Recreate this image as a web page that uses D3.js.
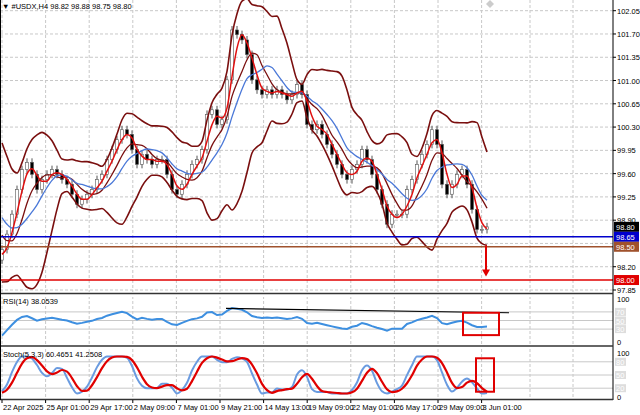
<!DOCTYPE html>
<html><head><meta charset="utf-8">
<script src="https://cdn.jsdelivr.net/npm/d3@7"></script>
<style>body{margin:0;background:#fff}text{font-family:"Liberation Sans",Arial,sans-serif}</style>
</head><body>
<script>
// closes, ~one point per 5px (warmup values sit before the left edge)
var warmup = [99.9, 99.8, 99.9, 99.7, 99.6, 99.5, 99.3, 99.2, 99.0, 98.7, 98.4, 98.3]
var closes = [98.46, 98.69, 98.99, 99.36, 99.66, 99.77, 99.59, 99.36, 99.51, 99.59, 99.66, 99.59, 99.51, 99.44, 99.29, 99.14, 99.21, 99.29, 99.36, 99.51,
  99.59, 99.81, 99.96, 100.11, 100.26, 100.19, 99.96, 99.74, 99.89, 99.81, 99.74, 99.81, 99.81, 99.59, 99.36, 99.29, 99.44, 99.59, 99.74, 99.81,
  99.96, 100.49, 100.56, 100.34, 100.41, 101.01, 101.76, 101.69, 101.61, 101.39, 101.01, 100.86, 100.79, 100.86, 100.79, 100.86, 100.79, 100.71, 100.79, 100.94,
  100.79, 100.34, 100.26, 100.34, 100.19, 100.04, 99.89, 99.74, 99.59, 99.51, 99.66, 99.74, 99.96, 99.81, 99.59, 99.36, 99.14, 98.84, 98.99, 98.99,
  98.99, 99.36, 99.51, 99.74, 99.89, 100.04, 100.26, 100.04, 99.44, 99.29, 99.44, 99.59, 99.66, 99.44, 99.06, 98.76, 98.76, 98.80]
var priceTicks = [102.05, 101.70, 101.35, 101.00, 100.65, 100.30, 99.95, 99.60, 99.25, 98.90, 98.20, 97.85]
var timeLabels = ['22 Apr 2025', '25 Apr 01:00', '29 Apr 17:00', '2 May 09:00', '7 May 01:00', '9 May 21:00', '14 May 13:00', '19 May 09:00', '22 May 01:00', '26 May 17:00', '29 May 09:00', '3 Jun 01:00']
var levels = [{ v: 98.80, c: '#000' }, { v: 98.65, c: '#0000cc' }, { v: 98.50, c: '#a0522d' }, { v: 98.00, c: '#e00000' }]

var W = 640, H = 415, axisX = 613
var svg = d3.select('body').append('svg').attr('width', W).attr('height', H)

var all = warmup.concat(closes)
var off = warmup.length
var x = d3.scaleLinear().domain([0, closes.length - 1]).range([2, 487])
var y = d3.scaleLinear().domain([97.85, 102.05]).range([290, 10.7])
var yR = d3.scaleLinear().domain([0, 100]).range([342, 299])
var yS = d3.scaleLinear().domain([0, 100]).range([397, 353])

function sma (n) { return all.map(function (d, i) { return i < n - 1 ? null : d3.mean(all.slice(i - n + 1, i + 1)) }) }
function sd (n) { return all.map(function (d, i) { return i < n - 1 ? null : d3.deviation(all.slice(i - n + 1, i + 1)) }) }
var mid = sma(10), dev = sd(10), fast = sma(3), blue = sma(9), mid2 = sma(6)
var upper = mid.map(function (m, i) { return m == null ? null : m + 2 * dev[i] })
var lower = mid.map(function (m, i) { return m == null ? null : m - 2 * dev[i] })

// RSI 14
var rsi = []
var ag = 0, al = 0
for (var i = 1; i < all.length; i++) {
  var ch = all[i] - all[i - 1]
  ag = (ag * 13 + Math.max(ch, 0)) / 14
  al = (al * 13 + Math.max(-ch, 0)) / 14
  rsi[i] = 100 - 100 / (1 + ag / (al || 1e-6))
}
// Stochastic on closes
var kRaw = all.map(function (d, i) {
  if (i < 5) return 50
  var s = all.slice(i - 5, i + 1), lo = d3.min(s), hi = d3.max(s)
  return hi === lo ? 50 : (d - lo) / (hi - lo) * 100
})
var kLine = kRaw.map(function (d, i) { return i < 2 ? d : (d + kRaw[i - 1] + kRaw[i - 2]) / 3 })
var dLine = kLine.map(function (d, i) { return i < 2 ? d : (d + kLine[i - 1] + kLine[i - 2]) / 3 })
kLine = kLine.map(function (d) { return 8 + d * 0.84 })
dLine = dLine.map(function (d) { return 8 + d * 0.84 })

function lineOf (arr, ys, curve) {
  return d3.line().defined(function (d, i) { return arr[i + off] != null }).curve(curve || d3.curveLinear)
    .x(function (d, i) { return x(i) }).y(function (d, i) { return ys(arr[i + off]) })(closes)
}

// grid
var grid = svg.append('g').attr('stroke', '#c8c8c8').attr('stroke-dasharray', '3,2')
var gx = d3.range(timeLabels.length).map(function (i) { return 2 + i * 43.6 }).concat([530, 573])
gx.forEach(function (gxv) {
  [[0, 292], [296, 345], [349, 399]].forEach(function (r) {
    grid.append('line').attr('x1', gxv).attr('x2', gxv).attr('y1', r[0]).attr('y2', r[1])
  })
})
priceTicks.concat([98.55]).forEach(function (t) { grid.append('line').attr('x1', 0).attr('x2', axisX).attr('y1', y(t)).attr('y2', y(t)) })
;[70, 50, 30].forEach(function (t) { svg.append('line').attr('x1', 0).attr('x2', axisX).attr('y1', yR(t)).attr('y2', yR(t)).attr('stroke', '#c8c8c8') })
;[80, 50, 20].forEach(function (t) { svg.append('line').attr('x1', 0).attr('x2', axisX).attr('y1', yS(t)).attr('y2', yS(t)).attr('stroke', '#c8c8c8') })

// candles (open = previous close)
var cg = svg.append('g')
closes.forEach(function (c, i) {
  var o = all[i + off - 1]
  var up = c >= o
  var hi = Math.max(o, c), lo = Math.min(o, c)
  cg.append('line').attr('x1', x(i)).attr('x2', x(i)).attr('y1', y(hi) - 4).attr('y2', y(lo) + 4).attr('stroke', '#555')
  cg.append('rect').attr('x', x(i) - 1.5).attr('width', 3).attr('y', y(hi)).attr('height', Math.max(1, y(lo) - y(hi)))
    .attr('fill', up ? '#fff' : '#000').attr('stroke', '#555').attr('stroke-width', 0.6)
})

// indicator lines
;[[upper, '#7a0f0f', 1.6], [lower, '#7a0f0f', 1.6], [mid2, '#7a0f0f', 1.3], [blue, '#4a78d8', 1.3], [fast, '#e01010', 1.5]].forEach(function (l) {
  svg.append('path').attr('d', lineOf(l[0], y, d3.curveMonotoneX)).attr('fill', 'none').attr('stroke', l[1]).attr('stroke-width', l[2])
})
svg.append('path').attr('d', lineOf(rsi, yR)).attr('fill', 'none').attr('stroke', '#3d8fe0').attr('stroke-width', 2)
svg.append('path').attr('d', lineOf(kLine, yS, d3.curveMonotoneX)).attr('fill', 'none').attr('stroke', '#6a9be0').attr('stroke-width', 2)
svg.append('path').attr('d', lineOf(dLine, yS, d3.curveMonotoneX)).attr('fill', 'none').attr('stroke', '#e00000').attr('stroke-width', 2.2)

// clip area under main panel bottom
svg.append('rect').attr('x', 0).attr('y', 292).attr('width', W).attr('height', 5).attr('fill', '#fff')

// horizontal levels
levels.slice(1).forEach(function (l) {
  svg.append('line').attr('x1', 0).attr('x2', axisX).attr('y1', y(l.v)).attr('y2', y(l.v)).attr('stroke', l.c).attr('stroke-width', 1.5)
})

// annotations
svg.append('line').attr('x1', 486).attr('x2', 486).attr('y1', y(98.52)).attr('y2', y(98.12)).attr('stroke', '#e00000').attr('stroke-width', 2)
svg.append('path').attr('d', 'M482,' + y(98.16) + 'L490,' + y(98.16) + 'L486,' + (y(98.16) + 7) + 'Z').attr('fill', '#e00000')
svg.append('line').attr('x1', 226).attr('x2', 509).attr('y1', yR(78)).attr('y2', yR(68)).attr('stroke', '#000').attr('stroke-width', 1.2)
svg.append('rect').attr('x', 463).attr('y', yR(68)).attr('width', 36).attr('height', yR(16) - yR(68)).attr('fill', 'none').attr('stroke', '#e00000').attr('stroke-width', 2)
svg.append('rect').attr('x', 476).attr('y', yS(88)).attr('width', 18).attr('height', yS(12) - yS(88)).attr('fill', 'none').attr('stroke', '#e00000').attr('stroke-width', 2)

// panel frames
svg.append('line').attr('x1', axisX).attr('x2', axisX).attr('y1', 0).attr('y2', 400).attr('stroke', '#000')
;[293.5, 346, 399.5].forEach(function (yy) { svg.append('line').attr('x1', 0).attr('x2', axisX).attr('y1', yy).attr('y2', yy).attr('stroke', '#333').attr('stroke-width', 1.5) })
svg.append('line').attr('x1', 0.5).attr('x2', 0.5).attr('y1', 0).attr('y2', 400).attr('stroke', '#000')

// price axis
var ax = svg.append('g').attr('font-size', 7.5).attr('fill', '#000')
priceTicks.forEach(function (t) {
  ax.append('line').attr('x1', axisX).attr('x2', axisX + 3).attr('y1', y(t)).attr('y2', y(t)).attr('stroke', '#000')
  ax.append('text').attr('x', axisX + 4).attr('y', y(t) + 3).text(t.toFixed(2))
})
levels.forEach(function (l) {
  ax.append('rect').attr('x', axisX + 1).attr('y', y(l.v) - 5).attr('width', 25).attr('height', 10).attr('fill', l.c)
  ax.append('text').attr('x', axisX + 3).attr('y', y(l.v) + 3).attr('fill', '#fff').text(l.v.toFixed(2))
})
;[[100, yR], [0, yR], [100, yS], [0, yS]].forEach(function (t) {
  ax.append('text').attr('x', axisX + 4).attr('y', t[1](t[0]) + 3).text(t[0])
})
;[[70, yR], [50, yR], [30, yR], [80, yS], [50, yS], [20, yS]].forEach(function (t) {
  ax.append('rect').attr('x', axisX + 2).attr('y', t[1](t[0]) - 4).attr('width', 11).attr('height', 8).attr('fill', '#ddd')
  ax.append('text').attr('x', axisX + 3).attr('y', t[1](t[0]) + 3).attr('fill', '#fff').text(t[0])
})

// time axis
var tx = svg.append('g').attr('font-size', 7.5)
timeLabels.forEach(function (t, i) {
  var xx = 2 + i * 43.6
  tx.append('line').attr('x1', xx).attr('x2', xx).attr('y1', 400).attr('y2', 403).attr('stroke', '#000')
  tx.append('text').attr('x', xx + 1).attr('y', 410).text(t)
})

// headers
svg.append('text').attr('x', 2).attr('y', 9).attr('font-size', 7.5).text('\u25BC #USDX,H4  98.82 98.88 98.75 98.80')
svg.append('text').attr('x', 3).attr('y', 304).attr('font-size', 7.5).text('RSI(14) 38.0539')
svg.append('text').attr('x', 3).attr('y', 357).attr('font-size', 7.5).text('Stoch(5,3,3) 60.4651 41.2508')
svg.append('path').attr('d', 'M490,0L494,4L490,8L486,4Z').attr('fill', '#ccc')
</script>
</body></html>
